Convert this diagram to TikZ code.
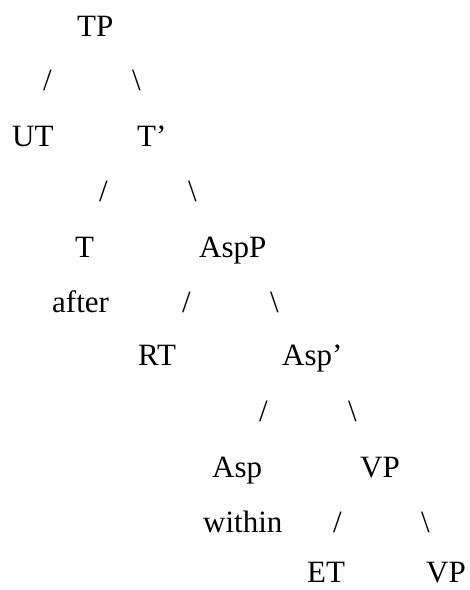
\documentclass[tikz,border=0pt]{standalone}
\usepackage{fontspec}
\setmainfont{Liberation Serif}
\usetikzlibrary{positioning}
\newcommand{\treefont}{\fontsize{31pt}{37pt}\selectfont}

\begin{document}
\begin{tikzpicture}[
  x=1pt, y=-1pt,
  every node/.style={font=\treefont, inner sep=0pt, anchor=base west},
  label/.style={},
  branch/.style={}
]
\useasboundingbox (0,0) rectangle (470,590);

% top level
\node[label] (tp) at (77,36) {TP};
\node[branch] (tpl) at (43,90) {/};
\node[branch] (tpr) at (132,90) {\textbackslash};
\node[label] (ut) at (12,146) {UT};
\node[label] (tbar) at (137,146) {T’};

% T' level
\node[branch] (tbarl) at (99,201) {/};
\node[branch] (tbarr) at (188,201) {\textbackslash};
\node[label] (t) at (75,257) {T};
\node[label] (aspp) at (199,257) {AspP};
\node[label] (after) at (52,312) {after};

% AspP level
\node[branch] (asppl) at (182,312) {/};
\node[branch] (asppr) at (270,312) {\textbackslash};
\node[label] (rt) at (138,365) {RT};
\node[label] (aspbar) at (282,365) {Asp’};

% Asp' level
\node[branch] (aspbarl) at (259,421) {/};
\node[branch] (aspbarr) at (348,421) {\textbackslash};
\node[label] (asp) at (212,477) {Asp};
\node[label] (vp) at (360,477) {VP};
\node[label] (within) at (203,532) {within};

% VP level
\node[branch] (vpl) at (333,532) {/};
\node[branch] (vpr) at (421,532) {\textbackslash};
\node[label] (et) at (307,582) {ET};
\node[label] (vplow) at (426,582) {VP};

\end{tikzpicture}
\end{document}
